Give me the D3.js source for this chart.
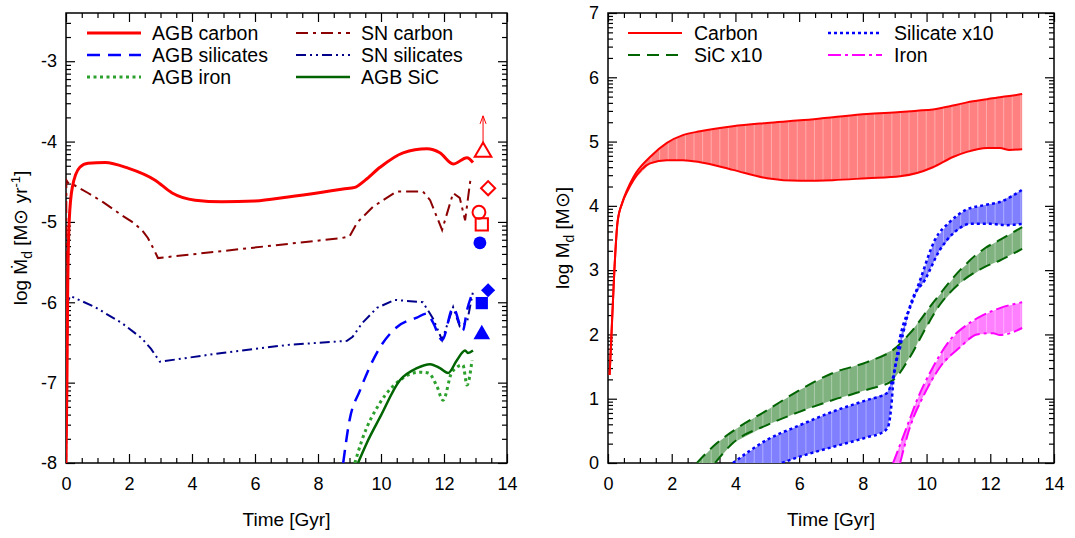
<!DOCTYPE html>
<html lang="en">
<head>
<meta charset="UTF-8">
<title>dust budget</title>
<script src="https://cdn.jsdelivr.net/npm/d3@7"></script>
<style>
  body { margin: 0; background: #fff; }
  svg { font-family: "Liberation Sans", Arial, sans-serif; }
  .tick text { font-size: 18px; fill: #000; }
  .tick line { stroke: #000; stroke-width: 1.2; }
  .title { font-size: 19px; }
  .leg { font-size: 19.5px; }
</style>
</head>
<body>
<script>
// ---------- left panel: dust production rates (log Msun/yr) ----------
var agbCarbonTime = [0.0, 0.03, 0.05, 0.1, 0.2, 0.44, 0.7, 1.24, 1.97, 2.83, 3.37, 4.1, 4.95, 6.0, 7.05, 8.13, 8.8, 9.17, 9.5, 9.97, 10.7, 11.46, 11.87, 12.29, 12.73, 12.92];
var agbCarbon     = [-8, -7, -6, -5, -4.57, -4.32, -4.27, -4.26, -4.33, -4.48, -4.64, -4.73, -4.75, -4.74, -4.69, -4.63, -4.59, -4.57, -4.48, -4.32, -4.14, -4.09, -4.14, -4.28, -4.2, -4.26];

var snCarbonTime = [0.0, 0.01, 0.06, 0.3, 0.7, 1.2, 1.78, 2.1, 2.41, 2.6, 2.8, 2.92, 8.76, 9.0, 9.24, 9.75, 10.5, 11.33, 11.56, 11.94, 12.29, 12.5, 12.67, 12.83, 12.92];
var snCarbon     = [-8, -4.48, -4.51, -4.55, -4.64, -4.76, -4.92, -5.0, -5.1, -5.2, -5.35, -5.45, -5.2, -5.18, -5.01, -4.81, -4.62, -4.62, -4.73, -5.1, -4.64, -4.7, -4.98, -4.5, -4.44];

var agbSilTime = [8.8, 9.0, 9.33, 9.97, 10.5, 11.14, 11.46, 11.65, 11.94, 12.29, 12.6, 12.73, 12.92];
var agbSil     = [-8, -7.47, -7.1, -6.56, -6.31, -6.19, -6.14, -6.25, -6.47, -6.07, -6.35, -6.1, -5.87];

var snSilTime = [0.0, 0.05, 0.13, 0.92, 1.78, 2.41, 2.7, 2.98, 4.95, 7.05, 8.92, 9.1, 9.4, 9.87, 10.44, 11.33, 11.65, 11.94, 12.29, 12.5, 12.73, 12.92];
var snSil     = [-8, -6.0, -5.92, -6.06, -6.26, -6.45, -6.58, -6.74, -6.63, -6.53, -6.48, -6.43, -6.26, -6.07, -5.97, -6.0, -6.2, -6.47, -6.06, -6.3, -6.25, -5.87];

var agbIronTime = [9.17, 9.4, 9.97, 10.6, 11.24, 11.5, 11.78, 11.97, 12.25, 12.6, 12.73, 12.89];
var agbIron     = [-8, -7.71, -7.25, -6.97, -6.87, -6.88, -7.05, -7.22, -6.87, -6.78, -7.03, -6.72];

var agbSicTime = [9.27, 9.55, 9.97, 10.6, 11.14, 11.56, 11.87, 12.13, 12.41, 12.67, 12.76, 12.92];
var agbSic     = [-8, -7.75, -7.43, -6.97, -6.82, -6.77, -6.82, -6.88, -6.72, -6.6, -6.63, -6.6];

// observed values plotted at the right edge
var obsTime  = [13.24, 13.4, 13.11, 13.2, 13.14, 13.4, 13.2, 13.2];
var obsValue = [-4.13, -4.58, -4.88, -5.03, -5.26, -5.85, -6.01, -6.4];
var obsShape = ["triangle", "diamond", "circle", "square", "circle", "diamond", "square", "triangle"];
var obsKind  = ["carbon", "carbon", "carbon", "carbon", "silicate", "silicate", "silicate", "silicate"];
var obsLimitTop = -3.68;   // the arrow on the first (lower limit) point

// ---------- right panel: dust masses (log Msun), bands ----------
var carbonTime = [0.05, 0.1, 0.2, 0.3, 0.45, 0.6, 0.8, 1.32, 1.85, 2.35, 2.89, 3.92, 4.99, 6.03, 7.06, 8.13, 9.17, 9.7, 10.2, 10.83, 11.27, 11.9, 12.3, 12.6, 13.0];
var carbonHigh = [1.37, 1.9, 3.0, 3.75, 4.05, 4.25, 4.45, 4.76, 4.98, 5.1, 5.16, 5.24, 5.29, 5.33, 5.38, 5.43, 5.46, 5.48, 5.5, 5.56, 5.61, 5.66, 5.69, 5.71, 5.74];
var carbonLow  = [1.37, 1.9, 3.0, 3.75, 4.05, 4.22, 4.4, 4.66, 4.71, 4.71, 4.68, 4.56, 4.43, 4.39, 4.4, 4.43, 4.46, 4.51, 4.6, 4.76, 4.84, 4.9, 4.9, 4.87, 4.88];

var sicHighTime = [2.79, 3.42, 4.05, 4.99, 6.03, 7.06, 8.13, 8.95, 9.48, 10.2, 11.05, 11.83, 12.3, 13.0];
var sicHigh     = [0, 0.31, 0.54, 0.82, 1.14, 1.4, 1.57, 1.76, 2.02, 2.49, 3.0, 3.34, 3.47, 3.67];
var sicLowTime  = [3.36, 3.92, 4.99, 6.03, 7.06, 8.13, 8.95, 9.48, 10.0, 10.4, 11.05, 11.83, 12.3, 13.0];
var sicLow      = [0, 0.31, 0.59, 0.8, 0.98, 1.14, 1.29, 1.65, 2.12, 2.45, 2.8, 3.05, 3.15, 3.33];

var silHighTime = [3.92, 4.99, 6.03, 7.06, 8.13, 8.76, 8.95, 9.17, 9.57, 9.8, 10.26, 10.73, 11.2, 11.8, 12.3, 13.0];
var silHigh     = [0, 0.36, 0.59, 0.8, 0.98, 1.09, 1.34, 1.96, 2.53, 2.85, 3.47, 3.75, 3.93, 4.01, 4.06, 4.25];
var silLowTime  = [5.46, 6.03, 7.06, 8.13, 8.63, 8.79, 8.91, 8.95, 9.17, 9.54, 9.95, 10.4, 10.9, 11.36, 12.0, 12.5, 13.0];
var silLow      = [0, 0.1, 0.25, 0.4, 0.48, 0.56, 0.98, 1.24, 1.8, 2.53, 2.85, 3.3, 3.6, 3.72, 3.72, 3.7, 3.72];

var ironHighTime = [8.95, 9.38, 9.7, 10.2, 10.73, 11.27, 11.77, 12.3, 13.0];
var ironHigh     = [0, 0.56, 0.98, 1.49, 1.91, 2.15, 2.3, 2.41, 2.5];
var ironLowTime  = [9.17, 9.48, 9.89, 10.42, 11.05, 11.58, 12.09, 12.3, 13.0];
var ironLow      = [0, 0.56, 1.03, 1.49, 1.8, 2.0, 2.02, 1.99, 2.1];

// ticks and labels
var timeTicks = [0, 2, 4, 6, 8, 10, 12, 14];
var leftMajor = [-8, -7, -6, -5, -4, -3];
var rightMajor = [0, 1, 2, 3, 4, 5, 6, 7];
var leftLegend = ["AGB carbon", "AGB silicates", "AGB iron", "SN carbon", "SN silicates", "AGB SiC"];
var rightLegend = ["Carbon", "SiC x10", "Silicate x10", "Iron"];

var W = 1075, H = 538;
var svg = d3.select("body").append("svg").attr("width", W).attr("height", H);
var defs = svg.append("defs");

function zip(t, v) { return t.map(function(d, i) { return [d, v[i]]; }); }

// half-unit minor ticks on time, log-style minor ticks on the y axes
function minorTime() {
    var out = [];
    for (var i = 0; i <= 28; i++) if (i % 4 != 0) out.push(i / 2);
    return out;
}
function minorLog(lo, hi) {
    var out = [];
    for (var n = Math.floor(lo); n < hi; n++)
        for (var k = 2; k <= 9; k++) {
            var v = n + Math.log10(k);
            if (v > lo && v < hi) out.push(v);
        }
    return out;
}

function panel(id, left, right, top, bottom, ydom, ymajor) {
    var x = d3.scaleLinear().domain([0, 14]).range([left, right]);
    var y = d3.scaleLinear().domain(ydom).range([bottom, top]);
    var g = svg.append("g");
    var fmt = function(d) { return String(d); };

    g.append("g").attr("transform", "translate(0," + bottom + ")")
        .call(d3.axisBottom(x).tickValues(timeTicks).tickSize(-9).tickPadding(14).tickFormat(fmt));
    g.append("g").attr("transform", "translate(0," + bottom + ")")
        .call(d3.axisBottom(x).tickValues(minorTime()).tickSize(-5).tickFormat(""));
    g.append("g").attr("transform", "translate(0," + top + ")")
        .call(d3.axisTop(x).tickValues(timeTicks).tickSize(-9).tickFormat(""));
    g.append("g").attr("transform", "translate(0," + top + ")")
        .call(d3.axisTop(x).tickValues(minorTime()).tickSize(-5).tickFormat(""));

    g.append("g").attr("transform", "translate(" + left + ",0)")
        .call(d3.axisLeft(y).tickValues(ymajor).tickSize(-9).tickPadding(9).tickFormat(fmt));
    g.append("g").attr("transform", "translate(" + left + ",0)")
        .call(d3.axisLeft(y).tickValues(minorLog(ydom[0], ydom[1])).tickSize(-5).tickFormat(""));
    g.append("g").attr("transform", "translate(" + right + ",0)")
        .call(d3.axisRight(y).tickValues(ymajor).tickSize(-9).tickFormat(""));
    g.append("g").attr("transform", "translate(" + right + ",0)")
        .call(d3.axisRight(y).tickValues(minorLog(ydom[0], ydom[1])).tickSize(-5).tickFormat(""));
    g.selectAll(".domain").remove();

    defs.append("clipPath").attr("id", id)
        .append("rect").attr("x", left).attr("y", top).attr("width", right - left).attr("height", bottom - top);
    var plot = svg.append("g").attr("clip-path", "url(#" + id + ")");

    g.append("text").attr("class", "title").attr("x", (left + right) / 2).attr("y", 526)
        .attr("text-anchor", "middle").text("Time [Gyr]");

    return { x: x, y: y, plot: plot, g: g, left: left, right: right, top: top, bottom: bottom };
}

// ================= left panel =================
var L = panel("clipL", 66, 507, 13, 463, [-8, -2.4], leftMajor);
var lineL = d3.line().x(function(d) { return L.x(d[0]); }).y(function(d) { return L.y(d[1]); });

var leftSeries = [
    { data: zip(snCarbonTime, snCarbon), color: "#8b0000", w: 2, dash: "12,5,3,5", curve: d3.curveLinear },
    { data: zip(snSilTime, snSil), color: "#00008b", w: 2, dash: "10,4,2,4,2,4", curve: d3.curveLinear },
    { data: zip(agbSilTime, agbSil), color: "#0000ff", w: 2.5, dash: "13,8", curve: d3.curveMonotoneX },
    { data: zip(agbIronTime, agbIron), color: "#2ca02c", w: 3, dash: "3,3.5", curve: d3.curveMonotoneX },
    { data: zip(agbSicTime, agbSic), color: "#006400", w: 2.5, dash: null, curve: d3.curveMonotoneX },
    { data: zip(agbCarbonTime, agbCarbon), color: "#ff0000", w: 3, dash: null, curve: d3.curveMonotoneX }
];
leftSeries.forEach(function(s) {
    L.plot.append("path").datum(s.data)
        .attr("d", lineL.curve(s.curve))
        .attr("fill", "none").attr("stroke", s.color).attr("stroke-width", s.w)
        .attr("stroke-dasharray", s.dash);
});

// observation markers
var symMap = { triangle: d3.symbolTriangle, diamond: d3.symbolSquare, circle: d3.symbolCircle, square: d3.symbolSquare };
var symSize = { triangle: 120, diamond: 100, circle: 130, square: 150 };

// lower limit arrow
var ax = L.x(obsTime[0]), ayTop = L.y(obsLimitTop);
L.g.append("line")
    .attr("x1", ax).attr("x2", ax)
    .attr("y1", L.y(obsValue[0]) - 7).attr("y2", ayTop)
    .attr("stroke", "#ff0000").attr("stroke-width", 1);
L.g.append("path")
    .attr("d", "M" + (ax - 3) + "," + (ayTop + 8) + " L" + ax + "," + ayTop + " L" + (ax + 3) + "," + (ayTop + 8))
    .attr("fill", "none").attr("stroke", "#ff0000").attr("stroke-width", 1);

obsTime.forEach(function(t, i) {
    var carbon = obsKind[i] == "carbon";
    var col = carbon ? "#ff0000" : "#0000ff";
    L.g.append("path")
        .attr("d", d3.symbol().type(symMap[obsShape[i]]).size(symSize[obsShape[i]])())
        .attr("transform", "translate(" + L.x(t) + "," + L.y(obsValue[i]) + ")" + (obsShape[i] == "diamond" ? " rotate(45)" : ""))
        .attr("fill", carbon ? "none" : col)
        .attr("stroke", col).attr("stroke-width", carbon ? 2 : 0);
});

L.g.append("rect").attr("x", L.left).attr("y", L.top).attr("width", L.right - L.left).attr("height", L.bottom - L.top)
    .attr("fill", "none").attr("stroke", "#000").attr("stroke-width", 1.5);

var ylabL = L.g.append("text").attr("class", "title").attr("text-anchor", "middle")
    .attr("transform", "translate(27," + ((L.top + L.bottom) / 2) + ") rotate(-90)");
ylabL.append("tspan").text("log \u1E40");
ylabL.append("tspan").attr("dy", 5).attr("font-size", 14).text("d");
ylabL.append("tspan").attr("dy", -5).text(" [M\u2299 yr");
ylabL.append("tspan").attr("dy", -7).attr("font-size", 13).text("-1");
ylabL.append("tspan").attr("dy", 7).text("]");

// legend, left
var legL = [
    { x: 87, y: 33, s: leftSeries[5] }, { x: 87, y: 55, s: leftSeries[2] }, { x: 87, y: 77, s: leftSeries[3] },
    { x: 296, y: 33, s: leftSeries[0] }, { x: 296, y: 55, s: leftSeries[1] }, { x: 296, y: 77, s: leftSeries[4] }
];
legL.forEach(function(e, i) {
    L.g.append("line").attr("x1", e.x).attr("x2", e.x + 54).attr("y1", e.y).attr("y2", e.y)
        .attr("stroke", e.s.color).attr("stroke-width", e.s.w).attr("stroke-dasharray", e.s.dash);
    L.g.append("text").attr("class", "leg").attr("x", e.x + 65).attr("y", e.y + 7).text(leftLegend[i]);
});

// ================= right panel =================
var R = panel("clipR", 608, 1054, 13, 463, [0, 7], rightMajor);
var lineR = d3.line().x(function(d) { return R.x(d[0]); }).y(function(d) { return R.y(d[1]); }).curve(d3.curveMonotoneX);
var polyR = d3.line().x(function(d) { return R.x(d[0]); }).y(function(d) { return R.y(d[1]); });

var bands = [
    { hi: zip(carbonTime, carbonHigh), lo: zip(carbonTime, carbonLow), color: "#ff0000", fill: "#ff8080", w: 2, dash: null },
    { hi: zip(sicHighTime, sicHigh), lo: zip(sicLowTime, sicLow), color: "#006400", fill: "#80b280", w: 2, dash: "12,7" },
    { hi: zip(silHighTime, silHigh), lo: zip(silLowTime, silLow), color: "#0000ff", fill: "#8080ff", w: 2.5, dash: "3,3" },
    { hi: zip(ironHighTime, ironHigh), lo: zip(ironLowTime, ironLow), color: "#ff00ff", fill: "#ff80ff", w: 2, dash: "13,4,3,4" }
];

bands.forEach(function(b, i) {
    var ring = b.hi.concat(b.lo.slice().reverse());
    var cid = "band" + i;
    defs.append("clipPath").attr("id", cid).append("path").attr("d", polyR(ring) + "Z");
    var bg = R.plot.append("g");
    bg.append("path").attr("d", polyR(ring) + "Z").attr("fill", b.fill);
    // thin light seams of the filled curve
    var seams = d3.range(0, 14, 0.27);
    bg.append("g").attr("clip-path", "url(#" + cid + ")").selectAll("line").data(seams).enter().append("line")
        .attr("x1", function(d) { return R.x(d); }).attr("x2", function(d) { return R.x(d); })
        .attr("y1", R.top).attr("y2", R.bottom)
        .attr("stroke", "#fff").attr("stroke-opacity", 0.35).attr("stroke-width", 1);
});
bands.forEach(function(b) {
    [b.hi, b.lo].forEach(function(d) {
        R.plot.append("path").datum(d).attr("d", lineR)
            .attr("fill", "none").attr("stroke", b.color).attr("stroke-width", b.w)
            .attr("stroke-dasharray", b.dash);
    });
});

R.g.append("rect").attr("x", R.left).attr("y", R.top).attr("width", R.right - R.left).attr("height", R.bottom - R.top)
    .attr("fill", "none").attr("stroke", "#000").attr("stroke-width", 1.5);

var ylabR = R.g.append("text").attr("class", "title").attr("text-anchor", "middle")
    .attr("transform", "translate(569," + ((R.top + R.bottom) / 2) + ") rotate(-90)");
ylabR.append("tspan").text("log M");
ylabR.append("tspan").attr("dy", 5).attr("font-size", 14).text("d");
ylabR.append("tspan").attr("dy", -5).text(" [M\u2299]");

var legR = [
    { x: 628, y: 33, b: bands[0] }, { x: 628, y: 55, b: bands[1] },
    { x: 828, y: 33, b: bands[2] }, { x: 828, y: 55, b: bands[3] }
];
legR.forEach(function(e, i) {
    R.g.append("line").attr("x1", e.x).attr("x2", e.x + 54).attr("y1", e.y).attr("y2", e.y)
        .attr("stroke", e.b.color).attr("stroke-width", e.b.w).attr("stroke-dasharray", e.b.dash);
    R.g.append("text").attr("class", "leg").attr("x", e.x + 66).attr("y", e.y + 7).text(rightLegend[i]);
});
</script>
</body>
</html>
